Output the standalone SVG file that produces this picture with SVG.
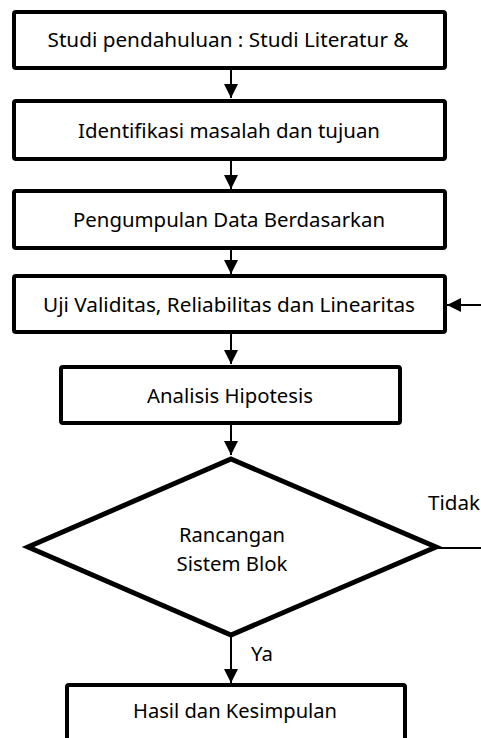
<svg xmlns="http://www.w3.org/2000/svg" width="481" height="738" viewBox="0 0 481 738">
<style>
.box{fill:#fff;stroke:#000;stroke-width:4;}
.dia{fill:#fff;stroke:#000;stroke-width:5;stroke-linejoin:miter;}
.t{font-family:"Noto Sans","Liberation Sans",sans-serif;font-size:19.5px;fill:#000;text-anchor:middle;}
.lbl{font-family:"Noto Sans","Liberation Sans",sans-serif;font-size:19.5px;fill:#000;}
.c{stroke:#000;stroke-width:2;fill:none;}
</style>
<defs>
<marker id="ah" markerWidth="14" markerHeight="14" refX="14" refY="7" orient="auto" markerUnits="userSpaceOnUse">
<path d="M0,0 L14,7 L0,14 Z" fill="#000"/>
</marker>
</defs>
<g id="connectors">
<line class="c" x1="231" y1="70" x2="231" y2="98" marker-end="url(#ah)"/>
<line class="c" x1="231" y1="161" x2="231" y2="189" marker-end="url(#ah)"/>
<line class="c" x1="231" y1="250" x2="231" y2="274" marker-end="url(#ah)"/>
<line class="c" x1="231" y1="334" x2="231" y2="364" marker-end="url(#ah)"/>
<line class="c" x1="231" y1="425" x2="231" y2="455" marker-end="url(#ah)"/>
<line class="c" x1="231" y1="637" x2="231" y2="683" marker-end="url(#ah)"/>
<line class="c" x1="481" y1="305" x2="447" y2="305" marker-end="url(#ah)"/>
<line class="c" x1="436" y1="548" x2="481" y2="548" stroke-width="1.5"/>
<text class="lbl" x="428" y="510" textLength="52" lengthAdjust="spacingAndGlyphs">Tidak</text>
<text class="lbl" x="251" y="661" textLength="22" lengthAdjust="spacingAndGlyphs">Ya</text>
</g>
<g id="n1">
<rect class="box" x="14" y="12" width="431" height="56" rx="2"/>
<text class="t" x="228" y="47" textLength="361" lengthAdjust="spacingAndGlyphs">Studi pendahuluan : Studi Literatur &amp;</text>
</g>
<g id="n2">
<rect class="box" x="14" y="101" width="431" height="58" rx="2"/>
<text class="t" x="229" y="138" textLength="302" lengthAdjust="spacingAndGlyphs">Identifikasi masalah dan tujuan</text>
</g>
<g id="n3">
<rect class="box" x="14" y="191" width="431" height="57" rx="2"/>
<text class="t" x="229" y="227" textLength="312" lengthAdjust="spacingAndGlyphs">Pengumpulan Data Berdasarkan</text>
</g>
<g id="n4">
<rect class="box" x="14" y="276" width="431" height="56" rx="2"/>
<text class="t" x="229" y="312" textLength="372" lengthAdjust="spacingAndGlyphs">Uji Validitas, Reliabilitas dan Linearitas</text>
</g>
<g id="n5">
<rect class="box" x="61" y="367" width="339" height="56" rx="2"/>
<text class="t" x="230" y="403" textLength="166" lengthAdjust="spacingAndGlyphs">Analisis Hipotesis</text>
</g>
<g id="n6">
<polygon class="dia" points="231,459 436,547 231,635 28,547"/>
<text class="t" x="232" y="542" textLength="106" lengthAdjust="spacingAndGlyphs">Rancangan</text>
<text class="t" x="232" y="571" textLength="111" lengthAdjust="spacingAndGlyphs">Sistem Blok</text>
</g>
<g id="n7">
<rect class="box" x="67" y="685" width="338" height="80" rx="2"/>
<text class="t" x="235" y="718" textLength="204" lengthAdjust="spacingAndGlyphs">Hasil dan Kesimpulan</text>
</g>
</svg>
